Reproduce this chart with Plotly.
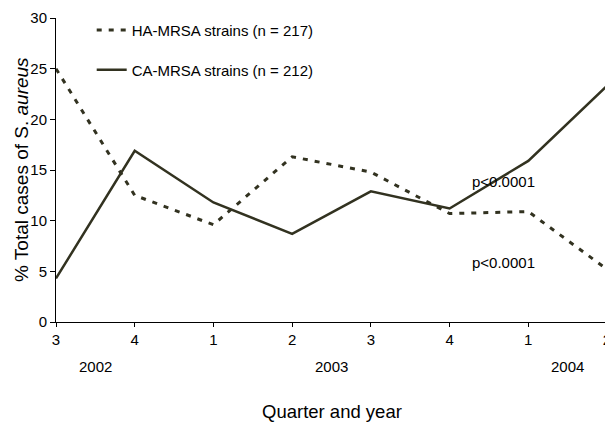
import plotly.graph_objects as go

quarters = ["3", "4", "1", "2", "3", "4", "1", "2"]
years = ["2002", "2003", "2004"]
year_pos = [0.5, 3.5, 6.5]
ha_mrsa = [25.0, 12.5, 9.6, 16.3, 14.8, 10.7, 10.9, 5.2]
ca_mrsa = [4.3, 16.9, 11.8, 8.7, 12.9, 11.2, 15.9, 23.3]
ha_name = "HA-MRSA strains (n = 217)"
ca_name = "CA-MRSA strains (n = 212)"
pvals = ["p<0.0001", "p<0.0001"]
p_pos = [(5.68, 13.9), (5.68, 5.9)]

color = "#323220"
font = "Liberation Sans, Arial, sans-serif"
xs = list(range(len(quarters)))

fig = go.Figure()
fig.add_trace(go.Scatter(x=xs, y=ha_mrsa, mode="lines", name=ha_name,
                         line=dict(color=color, width=3, dash="5px,7px"),
                         legend="legend"))
fig.add_trace(go.Scatter(x=xs, y=ca_mrsa, mode="lines", name=ca_name,
                         line=dict(color=color, width=2.5),
                         legend="legend2"))

annotations = []
for yr, xp in zip(years, year_pos):
    annotations.append(dict(x=xp, y=0, xref="x", yref="y", text=yr, showarrow=False,
                            yshift=-44, font=dict(size=15, color="black", family=font)))
for t, (px, py) in zip(pvals, p_pos):
    annotations.append(dict(x=px, y=py, xref="x", yref="y", text=t, showarrow=False,
                            font=dict(size=15, color="black", family=font)))
annotations.append(dict(x=0.5, y=0, xref="paper", yref="paper", text="Quarter and year",
                        showarrow=False, yshift=-102, xanchor="center",
                        font=dict(size=18.5, color="black", family=font)))
annotations.append(dict(x=0, y=0.5, xref="paper", yref="paper",
                        text="% Total cases of S. <i>aureus</i>", textangle=-90,
                        showarrow=False, xshift=-35, xanchor="center", yanchor="middle",
                        font=dict(size=19, color="black", family=font)))

fig.update_layout(
    width=613, height=429,
    margin=dict(l=48, r=14, t=10, b=115, autoexpand=False),
    paper_bgcolor="white", plot_bgcolor="white",
    font=dict(family=font, size=15, color="black"),
    showlegend=True,
    legend=dict(x=0.0648, y=0.96, xanchor="left", yanchor="middle", bgcolor="rgba(0,0,0,0)",
                font=dict(size=15, family=font)),
    legend2=dict(x=0.0648, y=0.829, xanchor="left", yanchor="middle", bgcolor="rgba(0,0,0,0)",
                 font=dict(size=15, family=font)),
    annotations=annotations,
    xaxis=dict(range=[0, 7], tickvals=xs, ticktext=quarters, showgrid=False, zeroline=False,
               showline=True, linecolor="black", linewidth=1, ticks="outside", ticklen=4,
               tickcolor="black", tickfont=dict(size=15, family=font), automargin=False,
               ticklabeloverflow="allow"),
    yaxis=dict(range=[0, 30], dtick=5, showgrid=False, zeroline=False,
               showline=True, linecolor="black", linewidth=1, ticks="outside", ticklen=5,
               tickcolor="black", tickfont=dict(size=15, family=font), automargin=False),
)

fig.write_html("out.html")
